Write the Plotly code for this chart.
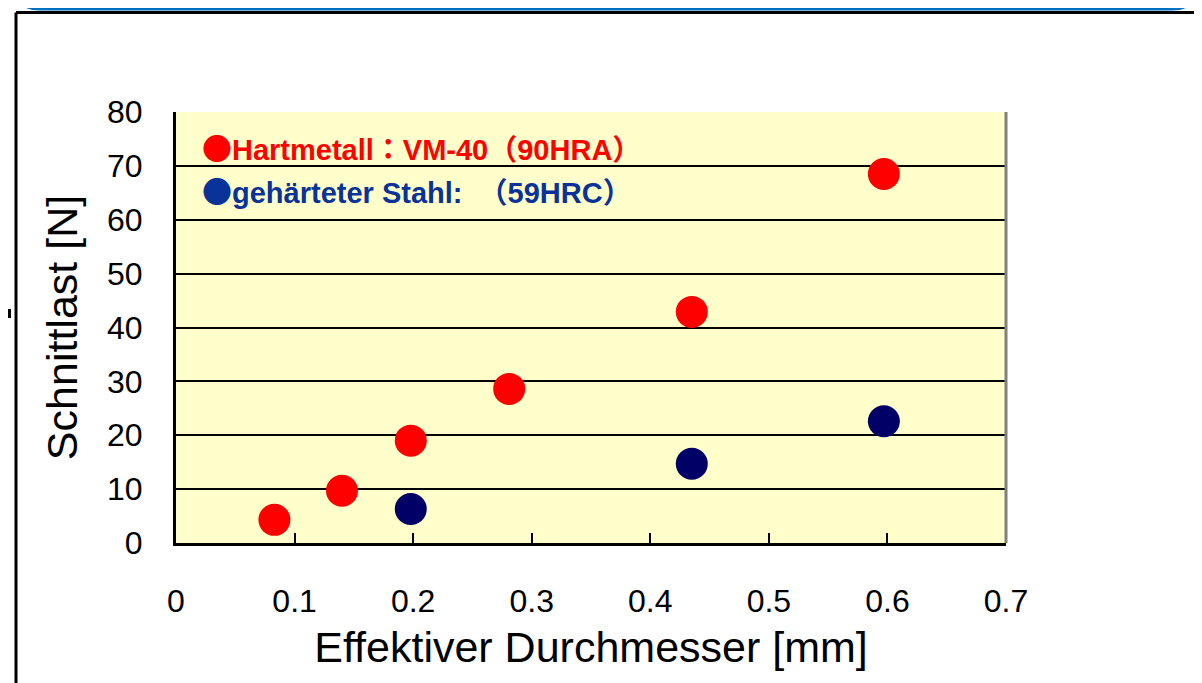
import plotly.graph_objects as go

# data
x_hartmetall = [0.083, 0.140, 0.198, 0.281, 0.435, 0.597]
y_hartmetall = [4.3, 9.7, 19.0, 28.6, 42.9, 68.5]
x_stahl = [0.198, 0.435, 0.597]
y_stahl = [6.3, 14.7, 22.6]

x_ticks = [0, 0.1, 0.2, 0.3, 0.4, 0.5, 0.6, 0.7]
y_ticks = [0, 10, 20, 30, 40, 50, 60, 70, 80]

label_hartmetall = "Hartmetall：VM-40（90HRA）"
label_stahl = "gehärteter Stahl:  （59HRC）"

COLORS = {
    "red": "#FF0000",
    "navy": "#000066",
    "legend_blue": "#0A3399",
    "plot_bg": "#FFFFCC",
    "frame_blue": "#0070C0",
    "grey": "#808080",
}

# page body has an 8px margin, so the figure is drawn 8px smaller
OFF = 8
W, H = 1202 - OFF, 683 - OFF
# plot area in screen pixels
L, R, T, B = 176, 1006, 112, 543
FONT = "Liberation Sans, Arial, Noto Sans CJK JP, sans-serif"
BULLET = "<span style=\"font-family:'Noto Sans CJK JP';font-size:30px\">●</span>"


def px(xp):
    return (xp - L) / (R - L)


def py(yp):
    return (B - yp) / (B - T)


fig = go.Figure()
fig.add_trace(go.Scatter(
    x=x_hartmetall, y=y_hartmetall, mode="markers",
    marker=dict(color=COLORS["red"], size=32, line=dict(width=0)),
    name="Hartmetall", showlegend=False,
))
fig.add_trace(go.Scatter(
    x=x_stahl, y=y_stahl, mode="markers",
    marker=dict(color=COLORS["navy"], size=32, line=dict(width=0)),
    name="Stahl", showlegend=False,
))

# legend as text inside the plot
for text, color, yp in [(label_hartmetall, COLORS["red"], 147),
                        (label_stahl, COLORS["legend_blue"], 190)]:
    fig.add_annotation(
        x=px(200), y=py(yp), xref="paper", yref="paper",
        xanchor="left", yanchor="middle", showarrow=False,
        text=f"<b>{BULLET}{text}</b>",
        font=dict(color=color, size=29, family=FONT),
    )

shapes = [
    # grey right border of plot area
    dict(type="line", xref="paper", yref="paper", x0=1, x1=1, y0=0, y1=1,
         line=dict(color=COLORS["grey"], width=3), layer="above"),
    # outer black frame
    dict(type="line", xref="paper", yref="paper", x0=px(16), x1=px(1210),
         y0=py(12.5), y1=py(12.5), line=dict(color="black", width=3)),
    dict(type="line", xref="paper", yref="paper", x0=px(16), x1=px(16),
         y0=py(12.5), y1=py(700), line=dict(color="black", width=3)),
    # small mark at the far left
    dict(type="line", xref="paper", yref="paper", x0=px(9.5), x1=px(9.5),
         y0=py(309), y1=py(318), line=dict(color="black", width=3)),
]

# blue rounded box, only its bottom edge is on screen
x0, x1 = px(15), px(1197)
yb, ytop = py(8.5), py(-40)
rx, ry = 25 / (R - L), 25 / (B - T)
path = (f"M {x0},{ytop} L {x0},{yb + ry} Q {x0},{yb} {x0 + rx},{yb} "
        f"L {x1 - rx},{yb} Q {x1},{yb} {x1},{yb + ry} L {x1},{ytop}")
shapes.append(dict(type="path", xref="paper", yref="paper", path=path,
                   line=dict(color=COLORS["frame_blue"], width=4)))

fig.update_layout(
    width=W, height=H,
    margin=dict(l=L - OFF, r=W - (R - OFF), t=T - OFF, b=H - (B - OFF), pad=0),
    paper_bgcolor="white",
    plot_bgcolor=COLORS["plot_bg"],
    font=dict(family=FONT, color="black"),
    shapes=shapes,
    xaxis=dict(
        range=[0, 0.7], tickvals=x_ticks, ticktext=[f"{v:g}" for v in x_ticks],
        showgrid=False, zeroline=False,
        showline=True, linecolor="black", linewidth=3,
        ticks="inside", ticklen=10, tickwidth=2, tickcolor="black",
        tickfont=dict(size=32), ticklabelstandoff=28,
        title=dict(text="Effektiver Durchmesser [mm]", font=dict(size=43), standoff=14),
    ),
    yaxis=dict(
        range=[0, 80], tickvals=y_ticks,
        showgrid=True, gridcolor="black", gridwidth=2, zeroline=False,
        showline=True, linecolor="black", linewidth=3,
        ticks="", tickfont=dict(size=32), ticklabelstandoff=24,
        title=dict(text="Schnittlast [N]", font=dict(size=43), standoff=16),
    ),
)

fig.write_html("out.html")
